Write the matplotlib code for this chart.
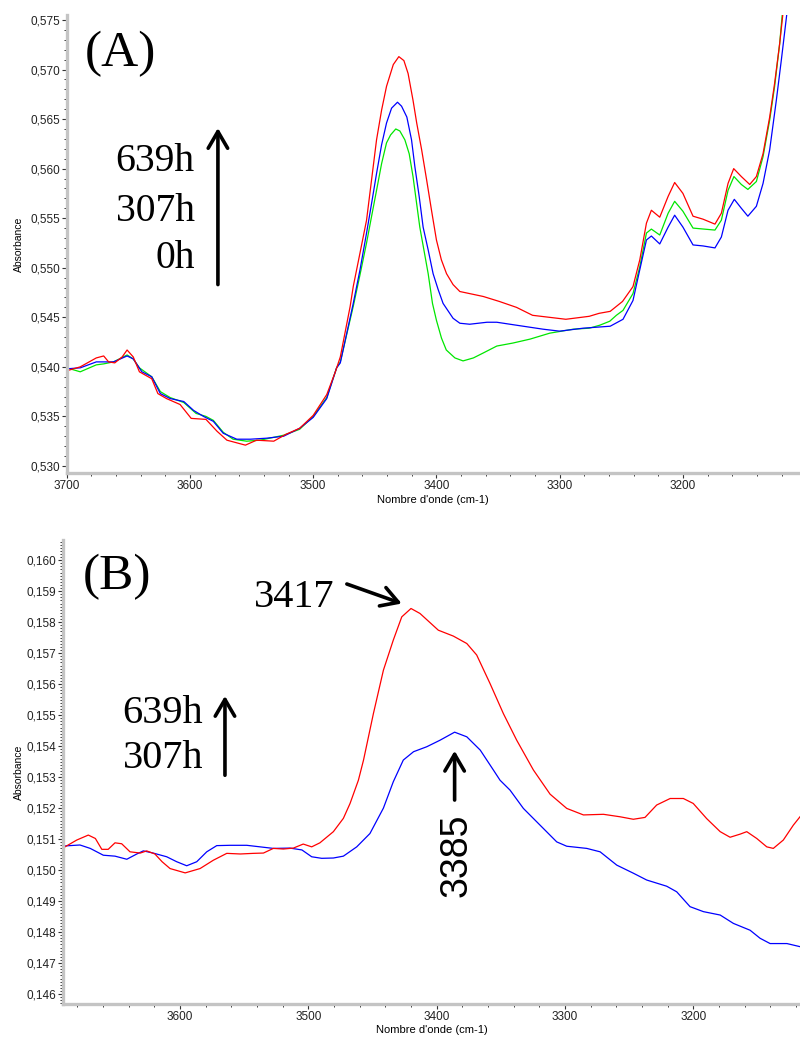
import matplotlib
matplotlib.use("Agg")
import matplotlib.pyplot as plt
from matplotlib.ticker import MultipleLocator, FuncFormatter

# ---------------- Panel A data ----------------
a_red_wn = [3700, 3689, 3676, 3670, 3666, 3661, 3655, 3651, 3646, 3641, 3631, 3626, 3619, 3608, 3599, 3587,
            3578, 3570, 3555, 3546, 3532, 3522, 3511, 3500, 3489, 3482, 3478, 3470, 3467.5, 3462, 3456.7,
            3452.6, 3448.6, 3444.5, 3440.5, 3435, 3430.5, 3426.4, 3423, 3419, 3416, 3412, 3408, 3404, 3400,
            3396, 3391.8, 3386.5, 3381, 3362, 3349, 3335, 3322, 3295, 3276, 3268, 3259, 3249, 3240.5, 3235,
            3229.6, 3225.6, 3218.8, 3212, 3206.7, 3200, 3191.8, 3183.7, 3174, 3168.8, 3163.4, 3158.8, 3152.6,
            3145.8, 3140.4, 3135, 3129.6, 3125.6, 3121.5, 3118.8, 3116]
a_red_abs = [0.5396, 0.5400, 0.5409, 0.5411, 0.5405, 0.5404, 0.5410, 0.5417, 0.5410, 0.5395, 0.5388, 0.5373,
             0.5368, 0.5362, 0.5348, 0.5347, 0.5335, 0.5326, 0.5321, 0.5326, 0.5325, 0.5332, 0.5338, 0.5351,
             0.5372, 0.5395, 0.5410, 0.5461, 0.5481, 0.5515, 0.5548, 0.5589, 0.5629, 0.5659, 0.5683, 0.5705,
             0.5713, 0.5709, 0.5696, 0.5669, 0.5646, 0.5619, 0.5589, 0.5558, 0.5528, 0.5508, 0.5494, 0.5483,
             0.5476, 0.5471, 0.5466, 0.5460, 0.5452, 0.5448, 0.5451, 0.5454, 0.5456, 0.5466, 0.5481, 0.5508,
             0.5545, 0.5558, 0.5551, 0.5572, 0.5586, 0.5575, 0.5552, 0.5549, 0.5544, 0.5555, 0.5585, 0.5600,
             0.5592, 0.5584, 0.5592, 0.5615, 0.5652, 0.5686, 0.5726, 0.5757, 0.5790]

a_blue_wn = [3700, 3689, 3676, 3662, 3651, 3646, 3639, 3631, 3624, 3616, 3605, 3597, 3589, 3581, 3573, 3562,
             3551, 3538, 3524, 3511, 3500, 3489, 3481, 3478, 3467.5, 3462, 3456.7, 3452.6, 3448.6, 3444.5,
             3440.5, 3436.4, 3431.6, 3428.3, 3424, 3420.2, 3417.5, 3414, 3410.8, 3406.7, 3402.7, 3398.6,
             3394.6, 3386.5, 3381, 3373, 3359, 3351, 3335, 3313.5, 3300, 3281, 3259, 3248.6, 3240.5, 3235,
             3229.6, 3225.6, 3218.8, 3212, 3206.7, 3200, 3191.8, 3183.7, 3174, 3168.8, 3163.4, 3158.3,
             3152.6, 3147.3, 3140.4, 3135, 3129.6, 3124.2, 3120.1, 3115.6, 3112]
a_blue_abs = [0.5398, 0.5399, 0.5405, 0.5405, 0.5411, 0.5408, 0.5395, 0.5390, 0.5373, 0.5368, 0.5365, 0.5356,
              0.5350, 0.5345, 0.5333, 0.5327, 0.5327, 0.5328, 0.5330, 0.5338, 0.5349, 0.5368, 0.5399, 0.5404,
              0.5464, 0.5498, 0.5535, 0.5565, 0.5595, 0.5624, 0.5646, 0.5661, 0.5667, 0.5663, 0.5652, 0.5629,
              0.5602, 0.5572, 0.5541, 0.5518, 0.5494, 0.5478, 0.5464, 0.5449, 0.5444, 0.5443, 0.5445, 0.5445,
              0.5442, 0.5438, 0.5436, 0.5439, 0.5441, 0.5448, 0.5467, 0.5498, 0.5528, 0.5532, 0.5524, 0.5541,
              0.5553, 0.5541, 0.5523, 0.5522, 0.5520, 0.5531, 0.5558, 0.5569, 0.5560, 0.5552, 0.5562, 0.5585,
              0.5619, 0.5669, 0.5710, 0.5757, 0.5790]

a_green_wn = [3700, 3689, 3676, 3670, 3662, 3651, 3646, 3641, 3631, 3624, 3616, 3605, 3595, 3587, 3581, 3573,
              3565, 3554, 3543, 3524, 3511, 3500, 3489, 3481, 3478, 3467.5, 3462, 3456.7, 3452.6, 3448.6,
              3444.5, 3440.5, 3437.2, 3433, 3429.7, 3425.6, 3422.1, 3419, 3413.5, 3406.7, 3403.2, 3400, 3395.9,
              3392, 3385, 3378.4, 3370, 3362, 3351, 3338, 3324, 3308, 3289, 3276, 3267.5, 3259.4, 3254, 3248.6,
              3240.5, 3235, 3229.6, 3225.6, 3218.8, 3212, 3206.7, 3200, 3191.8, 3183, 3174, 3168.8, 3163.4,
              3158.6, 3152.6, 3147.3, 3140.4, 3135, 3129.6, 3125.6, 3121.5, 3119.3, 3116]
a_green_abs = [0.5399, 0.5395, 0.5402, 0.5403, 0.5405, 0.5412, 0.5408, 0.5399, 0.5390, 0.5375, 0.5369, 0.5364,
               0.5353, 0.5350, 0.5346, 0.5334, 0.5327, 0.5325, 0.5326, 0.5331, 0.5337, 0.5350, 0.5369, 0.5399,
               0.5405, 0.5461, 0.5493, 0.5525, 0.5552, 0.5578, 0.5605, 0.5626, 0.5634, 0.5640, 0.5638, 0.5629,
               0.5615, 0.5592, 0.5541, 0.5494, 0.5464, 0.5447, 0.5429, 0.5417, 0.5409, 0.5406, 0.5409, 0.5414,
               0.5421, 0.5424, 0.5428, 0.5434, 0.5438, 0.5439, 0.5442, 0.5446, 0.5452, 0.5457, 0.5474, 0.5501,
               0.5535, 0.5539, 0.5533, 0.5555, 0.5567, 0.5557, 0.5540, 0.5539, 0.5538, 0.5548, 0.5578, 0.5592,
               0.5584, 0.5579, 0.5587, 0.5612, 0.5649, 0.5683, 0.5726, 0.5757, 0.5790]

# ---------------- Panel B data ----------------
b_red_wn = [3691, 3689.7, 3680.5, 3671.5, 3666, 3661, 3656, 3650.7, 3645.5, 3639, 3631, 3626, 3619.6, 3614,
            3607.8, 3596, 3584.4, 3574, 3563.6, 3553, 3543, 3535, 3527.3, 3519.5, 3511.7, 3504, 3497.4, 3491,
            3480.5, 3472.7, 3467.5, 3461, 3457, 3449.3, 3441.5, 3433.8, 3427.2, 3420, 3413, 3398.7, 3387,
            3376.5, 3368.8, 3358.4, 3348, 3337.6, 3324.6, 3311.6, 3298.6, 3285.6, 3270, 3257, 3246.7, 3237.6,
            3228.5, 3218, 3207.7, 3200, 3189.5, 3179, 3171.3, 3163.5, 3158.3, 3150.5, 3142.7, 3137.6, 3129.8,
            3122, 3116.8]
b_red_abs = [0.15072, 0.15075, 0.15097, 0.15113, 0.15102, 0.15067, 0.15067, 0.15088, 0.15085, 0.15059, 0.15055,
             0.15062, 0.15052, 0.15027, 0.15005, 0.14991, 0.15005, 0.15032, 0.15054, 0.15052, 0.15054, 0.15055,
             0.15070, 0.15068, 0.15071, 0.15084, 0.15075, 0.15088, 0.15124, 0.15167, 0.15215, 0.15290, 0.15355,
             0.15505, 0.15645, 0.15742, 0.15817, 0.15844, 0.15828, 0.15774, 0.15755, 0.15731, 0.15694, 0.15602,
             0.15505, 0.15419, 0.15323, 0.15245, 0.15199, 0.15178, 0.15180, 0.15172, 0.15164, 0.15170, 0.15210,
             0.15231, 0.15231, 0.15215, 0.15166, 0.15124, 0.15106, 0.15116, 0.15124, 0.15102, 0.15075, 0.15070,
             0.15097, 0.15145, 0.15172]

b_blue_wn = [3691, 3689.7, 3678, 3670, 3659.8, 3650.7, 3641.5, 3633.7, 3628.6, 3621, 3610.4, 3602.6, 3594.8,
             3587, 3579.2, 3571.4, 3561, 3548, 3537.6, 3527.3, 3514.3, 3505, 3497.4, 3489.6, 3480.5, 3472.7,
             3462.3, 3452, 3441.5, 3433.8, 3426, 3418, 3407.7, 3397.4, 3386, 3376.5, 3366, 3355.8, 3350.6,
             3342.8, 3332.4, 3319.4, 3306.4, 3298.6, 3283, 3272.6, 3259.6, 3246.7, 3236.3, 3220.7, 3212.9,
             3202.5, 3192.1, 3179, 3168.7, 3155.7, 3147.9, 3140.1, 3127, 3116.8]
b_blue_abs = [0.15075, 0.15078, 0.15081, 0.15070, 0.15048, 0.15045, 0.15035, 0.15052, 0.15062, 0.15055, 0.15043,
              0.15027, 0.15014, 0.15027, 0.15059, 0.15079, 0.15080, 0.15080, 0.15075, 0.15070, 0.15071, 0.15065,
              0.15043, 0.15038, 0.15039, 0.15045, 0.15075, 0.15118, 0.15200, 0.15285, 0.15355, 0.15382, 0.15398,
              0.15419, 0.15445, 0.15430, 0.15387, 0.15323, 0.15290, 0.15258, 0.15199, 0.15145, 0.15091, 0.15077,
              0.15070, 0.15059, 0.15016, 0.14990, 0.14968, 0.14948, 0.14930, 0.14882, 0.14866, 0.14855, 0.14828,
              0.14806, 0.14780, 0.14763, 0.14763, 0.14753]

a_times = ["639h", "307h", "0h"]
b_times = ["639h", "307h"]
b_peak_red = "3417"
b_peak_blue = "3385"

RED, BLUE, GREEN = "#ff0000", "#0000ff", "#00e600"
SPINE = "#c4c4c4"
SANS = "Liberation Sans"
SERIF = "Liberation Serif"

W, H = 800, 1038
fig = plt.figure(figsize=(W / 100, H / 100), dpi=100)


def px_axes(left, top, right, bottom):
    return [left / W, 1 - bottom / H, (right - left) / W, (bottom - top) / H]


axA = fig.add_axes(px_axes(66.7, 15, 800, 472.7))
axB = fig.add_axes(px_axes(63.3, 540, 800, 1004))

comma = FuncFormatter(lambda v, p: f"{v:.3f}".replace(".", ","))


def style(ax, ymajor, yminor):
    for s in ("top", "right"):
        ax.spines[s].set_visible(False)
    for s in ("left", "bottom"):
        ax.spines[s].set_color(SPINE)
        ax.spines[s].set_linewidth(2.4)
    ax.xaxis.set_major_locator(MultipleLocator(100))
    ax.xaxis.set_minor_locator(MultipleLocator(20))
    ax.yaxis.set_major_locator(MultipleLocator(ymajor))
    ax.yaxis.set_minor_locator(MultipleLocator(yminor))
    ax.yaxis.set_major_formatter(comma)
    ax.tick_params(which="major", length=3.5, width=0.8, color="#333333", pad=1.5,
                   labelsize=8.5, labelcolor="#222222")
    ax.tick_params(which="minor", length=2, width=0.7, color="#333333")
    for lab in ax.get_xticklabels() + ax.get_yticklabels():
        lab.set_fontfamily(SANS)


ARROW = dict(arrowstyle="->,head_length=0.6,head_width=0.35", lw=2.6,
             color="black", mutation_scale=20, shrinkA=0, shrinkB=0)

# ---------- Panel A ----------
axA.plot(a_green_wn, a_green_abs, color=GREEN, lw=0.9)
axA.plot(a_blue_wn, a_blue_abs, color=BLUE, lw=0.9)
axA.plot(a_red_wn, a_red_abs, color=RED, lw=0.9)
axA.set_xlim(3700, 3105)
axA.set_ylim(0.52932, 0.5755)
style(axA, 0.005, 0.001)
axA.set_ylabel("Absorbance", fontsize=7.5, family=SANS)
axA.set_xlabel("Nombre d'onde (cm-1)", fontsize=8, family=SANS)
axA.yaxis.set_label_coords(-0.058, 0.5)
axA.xaxis.set_label_coords(0.5, -0.048)
axA.xaxis.label.set_va("top")

axA.text(3656, 0.5716, "(A)", family=SERIF, fontsize=37, ha="center", va="center")
for lab, yv in zip(a_times, [0.5607, 0.5557, 0.5509]):
    axA.text(3596, yv, lab, family=SERIF, fontsize=28.5, ha="right", va="center")
axA.annotate("", xy=(3577.3, 0.5641), xytext=(3577.3, 0.5483), arrowprops=ARROW)

# ---------- Panel B ----------
axB.plot(b_blue_wn, b_blue_abs, color=BLUE, lw=0.9)
axB.plot(b_red_wn, b_red_abs, color=RED, lw=0.9)
axB.set_xlim(3691, 3116.8)
axB.set_ylim(0.14568, 0.16065)
style(axB, 0.001, 0.0001)
axB.set_ylabel("Absorbance", fontsize=7.5, family=SANS)
axB.set_xlabel("Nombre d'onde (cm-1)", fontsize=8, family=SANS)
axB.yaxis.set_label_coords(-0.053, 0.5)
axB.xaxis.set_label_coords(0.5, -0.045)
axB.xaxis.label.set_va("top")

axB.text(3649, 0.15945, "(B)", family=SERIF, fontsize=37, ha="center", va="center")
for lab, yv in zip(b_times, [0.15506, 0.15361]):
    axB.text(3582, yv, lab, family=SERIF, fontsize=29, ha="right", va="center")
axB.annotate("", xy=(3565, 0.15562), xytext=(3565, 0.15306), arrowprops=ARROW)
axB.text(3511, 0.15881, b_peak_red, family=SERIF, fontsize=29, ha="center", va="center")
axB.annotate("", xy=(3427.2, 0.1586), xytext=(3470, 0.15923), arrowprops=ARROW)
axB.text(3384.3, 0.15048, b_peak_blue, family=SANS, fontsize=27, ha="center", va="center",
         rotation=90)
axB.annotate("", xy=(3386, 0.15385), xytext=(3386, 0.15226), arrowprops=ARROW)

fig.savefig("out.png", dpi=100)
